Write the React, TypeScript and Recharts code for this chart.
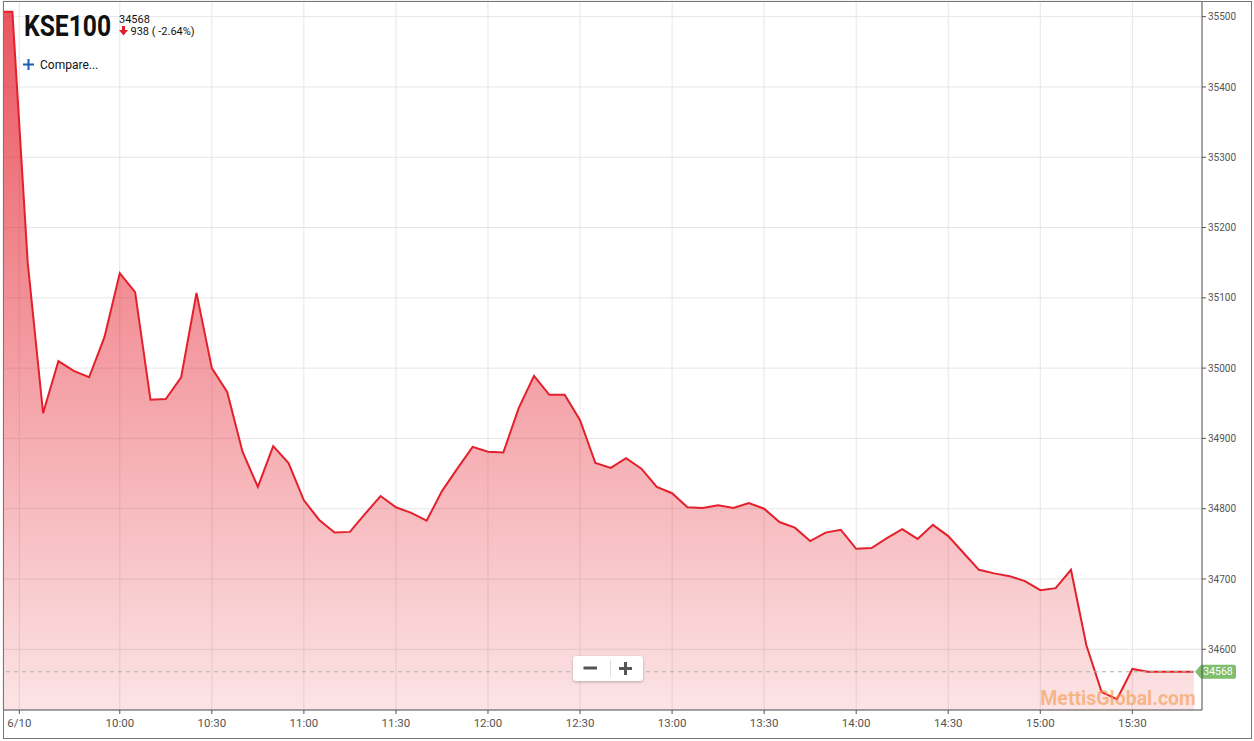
import React from "react";
import {
  AreaChart,
  Area,
  XAxis,
  YAxis,
  CartesianGrid,
  ReferenceLine,
} from "recharts";

const symbol = "KSE100";
const lastPrice = 34568;
const changeText = "938 ( -2.64%)";
const watermark = "MettisGlobal.com";

// 5 minute closes, first bar 09:20
const startMinute = 560;
const closes = [
  35507, 35507, 35150, 34936, 35010, 34996, 34987, 35044, 35135, 35108,
  34955, 34956, 34987, 35107, 35000, 34966, 34881, 34831, 34889, 34865,
  34812, 34784, 34766, 34767, 34793, 34818, 34802, 34794, 34783, 34825,
  34857, 34888, 34881, 34880, 34943, 34989, 34962, 34962, 34926, 34865,
  34858, 34872, 34857, 34831, 34822, 34802, 34801, 34805, 34801, 34808,
  34800, 34781, 34773, 34754, 34766, 34770, 34743, 34744, 34758, 34771,
  34757, 34777, 34761, 34737, 34713, 34708, 34704, 34697, 34684, 34687,
  34713, 34606, 34539, 34529, 34572, 34568, 34568, 34568, 34568,
];

const xTicks = [567.25, 600, 630, 660, 690, 720, 750, 780, 810, 840, 870, 900, 930];
const xTickLabels = [
  "6/10", "10:00", "10:30", "11:00", "11:30", "12:00", "12:30",
  "13:00", "13:30", "14:00", "14:30", "15:00", "15:30",
];
const yTicks = [34600, 34700, 34800, 34900, 35000, 35100, 35200, 35300, 35400, 35500];

const data = closes.map((price, i) => ({ t: startMinute + 5 * i, price }));

const axisFont = "Roboto, 'Noto Sans', sans-serif";

// green last-price tag on the right axis
const PriceTag = ({ viewBox }: any) => {
  if (!viewBox) return null;
  const x = viewBox.x + viewBox.width;
  const y = viewBox.y;
  return (
    <g>
      <path
        d={`M${x - 7},${y} L${x - 1},${y - 7} L${x + 32},${y - 7} Q${x + 34},${y - 7} ${x + 34},${y - 5} L${x + 34},${y + 5} Q${x + 34},${y + 7} ${x + 32},${y + 7} L${x - 1},${y + 7} Z`}
        fill="#80bd6c"
      />
      <text
        x={x + 16}
        y={y}
        dy="0.35em"
        textAnchor="middle"
        fill="#fff"
        fontSize={10.5}
        fontFamily={axisFont}
      >
        {lastPrice}
      </text>
    </g>
  );
};

export default function App() {
  return (
    <div
      style={{
        position: "absolute",
        left: 0,
        top: 0,
        width: 1254,
        height: 741,
        background: "#fff",
        fontFamily: axisFont,
      }}
    >
      <AreaChart
        width={1254}
        height={741}
        data={data}
        margin={{ top: 1, right: 2, bottom: 1, left: 3 }}
      >
        <defs>
          <linearGradient id="kseFill" x1="0" y1="0" x2="0" y2="1">
            <stop offset="0%" stopColor="#e41e2b" stopOpacity={0.75} />
            <stop offset="100%" stopColor="#e41e2b" stopOpacity={0.12} />
          </linearGradient>
        </defs>
        <CartesianGrid stroke="#e6e6e6" />
        <XAxis
          dataKey="t"
          type="number"
          domain={[561.94, 952.7]}
          allowDataOverflow
          ticks={xTicks}
          tickFormatter={(v: number) => xTickLabels[xTicks.indexOf(v)] ?? ""}
          height={30}
          stroke="#555"
          tickSize={4}
          tickMargin={5}
          tick={{ fontSize: 11.5, fill: "#555", fontFamily: axisFont }}
        />
        <YAxis
          orientation="right"
          type="number"
          domain={[34513.6, 35522.3]}
          allowDataOverflow
          ticks={yTicks}
          width={50}
          stroke="#555"
          tickSize={4}
          tickMargin={2}
          tick={{ fontSize: 10, fill: "#555", fontFamily: axisFont, textAnchor: "start" }}
        />
        <Area
          type="linear"
          dataKey="price"
          stroke="#e3202c"
          strokeWidth={2}
          fill="url(#kseFill)"
          fillOpacity={1}
          isAnimationActive={false}
          dot={false}
          activeDot={false}
        />
        <ReferenceLine
          y={lastPrice}
          stroke="#a9b59a"
          strokeDasharray="4 4"
          label={<PriceTag />}
        />
      </AreaChart>

      {/* outer frame */}
      <div
        style={{
          position: "absolute",
          left: 3,
          top: 1,
          width: 1249,
          height: 738,
          border: "1px solid #777",
          boxSizing: "border-box",
          pointerEvents: "none",
        }}
      />

      {/* header */}
      <div
        style={{
          position: "absolute",
          left: 24,
          top: 11.6,
          fontSize: 29,
          lineHeight: "29px",
          fontWeight: 700,
          color: "#111",
          transform: "scaleX(0.85)",
          transformOrigin: "left top",
          whiteSpace: "nowrap",
        }}
      >
        {symbol}
      </div>
      <div
        style={{
          position: "absolute",
          left: 119,
          top: 13.5,
          fontSize: 11,
          lineHeight: "11px",
          color: "#111",
        }}
      >
        {lastPrice}
      </div>
      <svg
        style={{ position: "absolute", left: 119, top: 26 }}
        width={9}
        height={10}
      >
        <path d="M3,0 L6,0 L6,4 L9,4 L4.5,9.5 L0,4 L3,4 Z" fill="#e31e2b" />
      </svg>
      <div
        style={{
          position: "absolute",
          left: 130.5,
          top: 26,
          fontSize: 11,
          lineHeight: "11px",
          color: "#111",
          whiteSpace: "nowrap",
        }}
      >
        {changeText}
      </div>
      <svg
        style={{ position: "absolute", left: 23, top: 59 }}
        width={11}
        height={11}
      >
        <rect x={0} y={4.5} width={11} height={2} fill="#1d5bb5" />
        <rect x={4.5} y={0} width={2} height={11} fill="#1d5bb5" />
      </svg>
      <div
        style={{
          position: "absolute",
          left: 40,
          top: 59,
          fontSize: 12,
          lineHeight: "12px",
          color: "#111",
        }}
      >
        Compare...
      </div>

      {/* zoom buttons */}
      <div
        style={{
          position: "absolute",
          left: 573,
          top: 656,
          width: 70,
          height: 25,
          background: "#fff",
          borderRadius: 3,
          boxShadow: "0 1px 3px rgba(0,0,0,0.25)",
        }}
      >
        <svg width={70} height={25}>
          <rect x={10.5} y={10.5} width={13.5} height={3} fill="#555" />
          <rect x={37} y={4} width={1} height={17} fill="#ddd" />
          <rect x={46} y={11} width={13} height={3} fill="#555" />
          <rect x={51} y={6} width={3} height={13} fill="#555" />
        </svg>
      </div>

      {/* watermark */}
      <div
        style={{
          position: "absolute",
          right: 58,
          top: 688.5,
          fontSize: 19.5,
          lineHeight: "20px",
          fontWeight: 700,
          color: "rgba(245,150,70,0.6)",
          whiteSpace: "nowrap",
        }}
      >
        {watermark}
      </div>
    </div>
  );
}
